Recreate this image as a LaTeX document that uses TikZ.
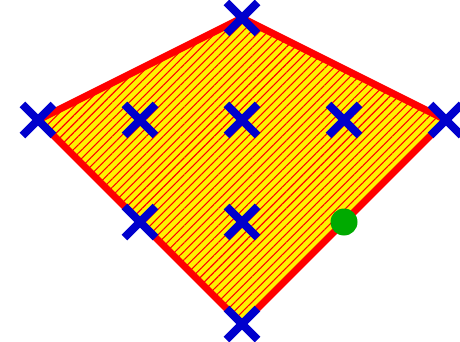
\documentclass[tikz,border=0pt]{standalone}
\usepackage{amsmath}
\usepackage{tikz}
\usetikzlibrary{shapes.misc,patterns.meta}
\definecolor{ptblue}{RGB}{0,0,205}
\definecolor{ptgreen}{RGB}{0,170,0}
\begin{document}
\begin{tikzpicture}[x=102pt, y=102pt,
  lattice/.style={draw=ptblue, cross out, line width=8pt, minimum size=23pt, inner sep=0pt},
  extra/.style={circle, fill=ptgreen, minimum size=27pt, inner sep=0pt},
  hull/.style={draw=red, line width=7pt, line join=miter,
    preaction={fill=yellow},
    pattern={Lines[angle=45, distance=6pt, line width=1.1pt]}, pattern color=red}]
\useasboundingbox (-242pt,-222pt) rectangle (218pt,120pt);
\coordinate (T) at (0,1);
\coordinate (L) at (-2,0);
\coordinate (R) at (2,0);
\coordinate (B) at (0,-2);
\draw[hull] (T) -- (R) -- (B) -- (L) -- cycle;
\node[lattice] (p1) at (T) {};
\node[lattice] (p2) at (L) {};
\node[lattice] (p3) at (-1,0) {};
\node[lattice] (p4) at (0,0) {};
\node[lattice] (p5) at (1,0) {};
\node[lattice] (p6) at (R) {};
\node[lattice] (p7) at (-1,-1) {};
\node[lattice] (p8) at (0,-1) {};
\node[lattice] (p9) at (B) {};
\node[extra] (q) at (1,-1) {};
\end{tikzpicture}
\end{document}
